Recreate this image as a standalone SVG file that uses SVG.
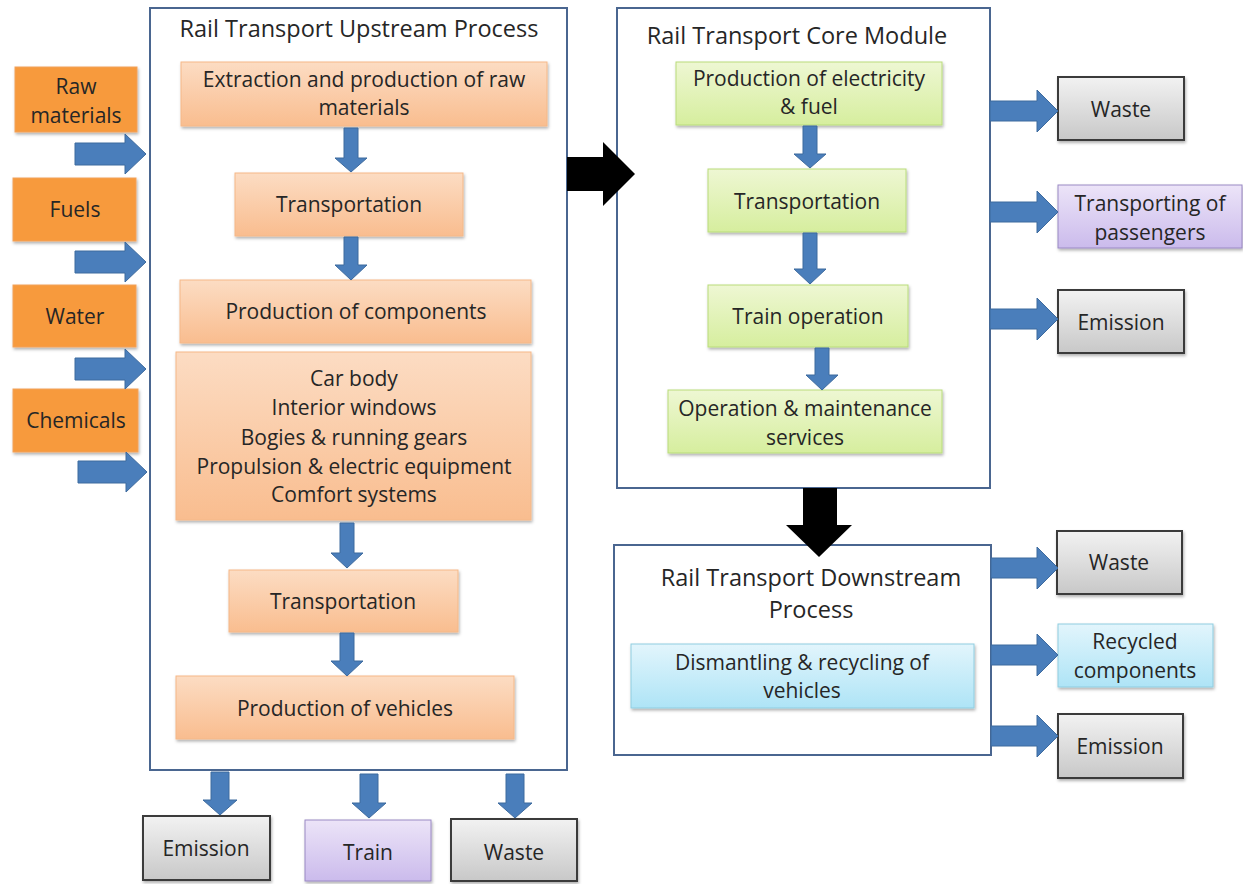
<svg xmlns="http://www.w3.org/2000/svg" width="1243" height="884" viewBox="0 0 1243 884">
<defs>
<linearGradient id="gOr" x1="0" y1="0" x2="0" y2="1"><stop offset="0" stop-color="#fcdcc3"/><stop offset="1" stop-color="#f9bd8f"/></linearGradient>
<linearGradient id="gGr" x1="0" y1="0" x2="0" y2="1"><stop offset="0" stop-color="#eef7d3"/><stop offset="1" stop-color="#d6ee9e"/></linearGradient>
<linearGradient id="gBl" x1="0" y1="0" x2="0" y2="1"><stop offset="0" stop-color="#e2f5fc"/><stop offset="1" stop-color="#aee4f6"/></linearGradient>
<linearGradient id="gGy" x1="0" y1="0" x2="0" y2="1"><stop offset="0" stop-color="#f2f2f2"/><stop offset="1" stop-color="#c8c8c8"/></linearGradient>
<linearGradient id="gPu" x1="0" y1="0" x2="0" y2="1"><stop offset="0" stop-color="#ece4f8"/><stop offset="1" stop-color="#cbbbec"/></linearGradient>
<filter id="sh" x="-10%" y="-10%" width="120%" height="130%"><feDropShadow dx="1" dy="2" stdDeviation="1.5" flood-color="#000" flood-opacity="0.3"/></filter>
</defs>
<style>
text{font-family:"Open Sans",Lato,"Liberation Sans",sans-serif;fill:#262626;text-anchor:middle}
.t{font-size:23.5px}
.b{font-size:21px}
.cont{fill:#fff;stroke:#4a6690;stroke-width:2}
.or{fill:#f79a3e;stroke:#f2a15a;stroke-width:1;filter:url(#sh)}
.pe{fill:url(#gOr);stroke:#f5b888;stroke-width:1;filter:url(#sh)}
.gr{fill:url(#gGr);stroke:#b9dc7a;stroke-width:1;filter:url(#sh)}
.bl{fill:url(#gBl);stroke:#8fcde0;stroke-width:1;filter:url(#sh)}
.gy{fill:url(#gGy);stroke:#3a3a3a;stroke-width:2;filter:url(#sh)}
.pu{fill:url(#gPu);stroke:#9a89c4;stroke-width:1;filter:url(#sh)}
.ar{fill:#4a7ebb;stroke:#3d6a9e;stroke-width:1}
.bk{fill:#000}
</style>

<g id="upstream">
<rect class="cont" x="150" y="8" width="417" height="762"/>
<text class="t" x="359" y="37">Rail Transport Upstream Process</text>
</g>
<g id="core">
<rect class="cont" x="617" y="8" width="373" height="480"/>
<text class="t" x="797" y="44">Rail Transport Core Module</text>
</g>
<g id="downstream">
<rect class="cont" x="614" y="545" width="377" height="210"/>
<text class="t" x="811" y="586">Rail Transport Downstream</text>
<text class="t" x="811" y="618">Process</text>
</g>

<g id="in-raw"><rect class="or" x="15" y="67" width="122" height="65"/><text class="b" x="76" y="94">Raw</text><text class="b" x="76" y="123">materials</text></g>
<g id="in-fuels"><rect class="or" x="13" y="178" width="123" height="63"/><text class="b" x="75" y="217">Fuels</text></g>
<g id="in-water"><rect class="or" x="13" y="285" width="123" height="62"/><text class="b" x="75" y="324">Water</text></g>
<g id="in-chem"><rect class="or" x="13" y="389" width="125" height="63"/><text class="b" x="76" y="428">Chemicals</text></g>

<g id="u1"><rect class="pe" x="181" y="62" width="366" height="64"/><text class="b" x="364" y="87">Extraction and production of raw</text><text class="b" x="364" y="115">materials</text></g>
<g id="u2"><rect class="pe" x="235" y="173" width="228" height="63"/><text class="b" x="349" y="212">Transportation</text></g>
<g id="u3"><rect class="pe" x="180" y="280" width="351" height="63"/><text class="b" x="356" y="319">Production of components</text></g>
<g id="u4"><rect class="pe" x="176" y="352" width="355" height="168"/>
<text class="b" x="354" y="386">Car body</text>
<text class="b" x="354" y="415">Interior windows</text>
<text class="b" x="354" y="445">Bogies &amp; running gears</text>
<text class="b" x="354" y="474">Propulsion &amp; electric equipment</text>
<text class="b" x="354" y="502">Comfort systems</text></g>
<g id="u5"><rect class="pe" x="229" y="570" width="229" height="62"/><text class="b" x="343" y="609">Transportation</text></g>
<g id="u6"><rect class="pe" x="176" y="676" width="338" height="63"/><text class="b" x="345" y="716">Production of vehicles</text></g>

<g id="c1"><rect class="gr" x="676" y="62" width="266" height="63"/><text class="b" x="809" y="86">Production of electricity</text><text class="b" x="809" y="114">&amp; fuel</text></g>
<g id="c2"><rect class="gr" x="708" y="169" width="198" height="63"/><text class="b" x="807" y="209">Transportation</text></g>
<g id="c3"><rect class="gr" x="708" y="285" width="200" height="62"/><text class="b" x="808" y="324">Train operation</text></g>
<g id="c4"><rect class="gr" x="668" y="390" width="274" height="63"/><text class="b" x="805" y="416">Operation &amp; maintenance</text><text class="b" x="805" y="445">services</text></g>

<g id="d1"><rect class="bl" x="631" y="644" width="343" height="64"/><text class="b" x="802" y="670">Dismantling &amp; recycling of</text><text class="b" x="802" y="698">vehicles</text></g>

<g id="o-core-waste"><rect class="gy" x="1058" y="77" width="126" height="63"/><text class="b" x="1121" y="117">Waste</text></g>
<g id="o-core-pass"><rect class="pu" x="1058" y="185" width="184" height="63"/><text class="b" x="1150" y="211">Transporting of</text><text class="b" x="1150" y="240">passengers</text></g>
<g id="o-core-em"><rect class="gy" x="1058" y="290" width="126" height="63"/><text class="b" x="1121" y="330">Emission</text></g>

<g id="o-down-waste"><rect class="gy" x="1057" y="531" width="125" height="63"/><text class="b" x="1119" y="570">Waste</text></g>
<g id="o-down-rec"><rect class="bl" x="1058" y="624" width="155" height="63"/><text class="b" x="1135" y="649">Recycled</text><text class="b" x="1135" y="678">components</text></g>
<g id="o-down-em"><rect class="gy" x="1058" y="714" width="125" height="64"/><text class="b" x="1120" y="754">Emission</text></g>

<g id="o-up-em"><rect class="gy" x="143" y="816" width="127" height="64"/><text class="b" x="206" y="856">Emission</text></g>
<g id="o-up-train"><rect class="pu" x="305" y="820" width="126" height="61"/><text class="b" x="368" y="860">Train</text></g>
<g id="o-up-waste"><rect class="gy" x="451" y="819" width="126" height="62"/><text class="b" x="514" y="860">Waste</text></g>

<g id="connectors">
<polygon class="ar" points="75,143 125,143 125,134 146,154 125,174 125,165 75,165"/>
<polygon class="ar" points="75,251 125,251 125,242 146,262 125,282 125,273 75,273"/>
<polygon class="ar" points="75,358 125,358 125,349 146,369 125,389 125,380 75,380"/>
<polygon class="ar" points="78,461 126,461 126,452 147,472 126,492 126,483 78,483"/>

<polygon class="ar" points="344,128 358,128 358,158 367,158 351,172 335,158 344,158"/>
<polygon class="ar" points="344,237 358,237 358,265 367,265 351,280 335,265 344,265"/>
<polygon class="ar" points="340,523 354,523 354,553 363,553 347,568 331,553 340,553"/>
<polygon class="ar" points="340,633 354,633 354,661 363,661 347,676 331,661 340,661"/>

<polygon class="ar" points="803,126 817,126 817,154 826,154 810,168 794,154 803,154"/>
<polygon class="ar" points="803,233 817,233 817,269 826,269 810,284 794,269 803,269"/>
<polygon class="ar" points="815,348 829,348 829,375 838,375 822,390 806,375 815,375"/>

<polygon class="ar" points="211,772 229,772 229,800 237,800 220,815 203,800 211,800"/>
<polygon class="ar" points="360,774 378,774 378,803 386,803 369,818 352,803 360,803"/>
<polygon class="ar" points="506,774 524,774 524,803 532,803 515,818 498,803 506,803"/>

<polygon class="ar" points="990,101 1037,101 1037,90 1058,111 1037,132 1037,121 990,121"/>
<polygon class="ar" points="990,202 1037,202 1037,191 1058,212 1037,233 1037,222 990,222"/>
<polygon class="ar" points="990,309 1037,309 1037,298 1058,319 1037,340 1037,329 990,329"/>

<polygon class="ar" points="991,558 1037,558 1037,547 1058,568 1037,589 1037,578 991,578"/>
<polygon class="ar" points="991,645 1037,645 1037,634 1058,655 1037,676 1037,665 991,665"/>
<polygon class="ar" points="991,726 1037,726 1037,715 1058,736 1037,757 1037,746 991,746"/>

<polygon class="bk" points="567,157 603,157 603,142 635,174 603,206 603,191 567,191"/>
<polygon class="bk" points="803,488 837,488 837,525 852,525 819,557 786,525 803,525"/>
</g>
</svg>
